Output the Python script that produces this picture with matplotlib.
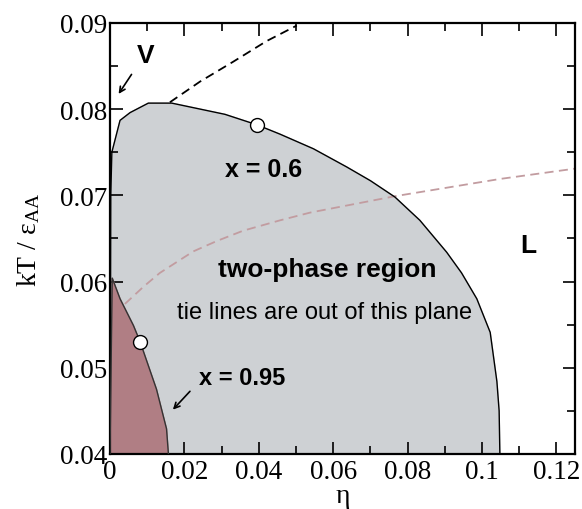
import matplotlib
matplotlib.use("Agg")
import matplotlib.pyplot as plt
from matplotlib.ticker import MultipleLocator, FormatStrFormatter

plt.rcParams["mathtext.fontset"] = "custom"
plt.rcParams["mathtext.rm"] = "Liberation Serif"
plt.rcParams["mathtext.it"] = "Liberation Serif:italic"

# x = 0.6 coexistence boundary (grey two-phase region)
eta_06 = [0.0, 0.0002, 0.0005, 0.0027, 0.0054, 0.0103, 0.0166, 0.0309, 0.0394,
          0.0457, 0.0547, 0.0636, 0.0700, 0.0766, 0.0833, 0.0905, 0.0945,
          0.0986, 0.1022, 0.1040, 0.1046, 0.1048]
kt_06 = [0.040, 0.070, 0.0750, 0.0787, 0.0796, 0.0807, 0.0807, 0.0794, 0.0782,
         0.0771, 0.0754, 0.0733, 0.0717, 0.0698, 0.0671, 0.0634, 0.0610,
         0.0580, 0.0541, 0.0484, 0.045, 0.040]

# x = 0.95 boundary (pink region)
eta_095 = [0.0, 0.0006, 0.0027, 0.0063, 0.0081, 0.0125, 0.0152, 0.0157]
kt_095 = [0.040, 0.0604, 0.0580, 0.0549, 0.0530, 0.0475, 0.0429, 0.040]

# black dashed line
eta_bd = [0.0161, 0.0242, 0.0331, 0.0421, 0.0502]
kt_bd = [0.0808, 0.0832, 0.0855, 0.0879, 0.0897]

# pink dashed line
eta_pd = [0.0040, 0.0090, 0.0134, 0.0224, 0.0287, 0.0358, 0.0457, 0.0538,
          0.0766, 0.1048, 0.125]
kt_pd = [0.0574, 0.0594, 0.0610, 0.0635, 0.0647, 0.0659, 0.0671, 0.0680,
         0.0699, 0.0719, 0.0731]

# open circles
eta_pts = [0.0394, 0.0081]
kt_pts = [0.0782, 0.0530]

fig = plt.figure(figsize=(5.82, 5.10), dpi=100)
ax = fig.add_axes([0.189, 0.108, 0.799, 0.845])

ax.fill(eta_06, kt_06, color="#ced1d4", zorder=1)
ax.plot(eta_06, kt_06, color="black", lw=1.0, zorder=3)
ax.fill(eta_095, kt_095, color="#b07e84", zorder=2)
ax.plot(eta_095, kt_095, color="#333333", lw=1.0, zorder=3)
ax.plot(eta_bd, kt_bd, color="black", lw=1.3, dashes=(5, 3), zorder=3)
ax.plot(eta_pd, kt_pd, color="#c29ca0", lw=1.3, dashes=(5, 3), zorder=2.5)
ax.plot(eta_pts, kt_pts, "o", ms=10, mfc="white", mec="black", mew=1.0, zorder=4)

ax.set_xlim(0, 0.125)
ax.set_ylim(0.04, 0.09)

serif = "Liberation Serif"
ax.xaxis.set_major_locator(MultipleLocator(0.02))
ax.xaxis.set_minor_locator(MultipleLocator(0.01))
ax.yaxis.set_major_locator(MultipleLocator(0.01))
ax.yaxis.set_minor_locator(MultipleLocator(0.005))
ax.xaxis.set_major_formatter(FormatStrFormatter("%g"))
ax.yaxis.set_major_formatter(FormatStrFormatter("%g"))
ax.tick_params(which="both", direction="in", top=True, right=True, width=1.2)
ax.tick_params(which="major", length=9, labelsize=19.5)
ax.tick_params(axis="x", which="major", pad=4)
ax.tick_params(axis="y", which="major", pad=2)
ax.tick_params(which="minor", length=6)
for lab in ax.get_xticklabels() + ax.get_yticklabels():
    lab.set_fontfamily(serif)
for s in ax.spines.values():
    s.set_linewidth(1.6)

ax.set_xlabel("η", fontsize=20, fontfamily=serif, labelpad=-1)
ax.set_ylabel(r"kT / $\mathrm{ε_{AA}}$", fontsize=20, fontfamily=serif, labelpad=13)

sans = "Liberation Sans"
ax.text(0.0097, 0.0863, "V", fontsize=19, fontweight="bold", fontfamily=sans,
        ha="center", va="center")
ax.text(0.1124, 0.0642, "L", fontsize=19, fontweight="bold", fontfamily=sans,
        ha="center", va="center")
ax.text(0.0414, 0.0731, "x = 0.6", fontsize=18, fontweight="bold", fontfamily=sans,
        ha="center", va="center")
ax.text(0.0354, 0.0489, "x = 0.95", fontsize=17, fontweight="bold", fontfamily=sans,
        ha="center", va="center")
ax.text(0.0585, 0.0615, "two-phase region", fontsize=19, fontweight="bold",
        fontfamily=sans, ha="center", va="center")
ax.text(0.0577, 0.0565, "tie lines are out of this plane", fontsize=17,
        fontfamily=sans, ha="center", va="center")

arrow = dict(arrowstyle="->", color="black", lw=1.2)
ax.annotate("", xy=(0.0019, 0.0815), xytext=(0.0062, 0.0843), arrowprops=arrow)
ax.annotate("", xy=(0.0164, 0.0449), xytext=(0.0220, 0.0475), arrowprops=arrow)

fig.savefig("out.png", dpi=100)
